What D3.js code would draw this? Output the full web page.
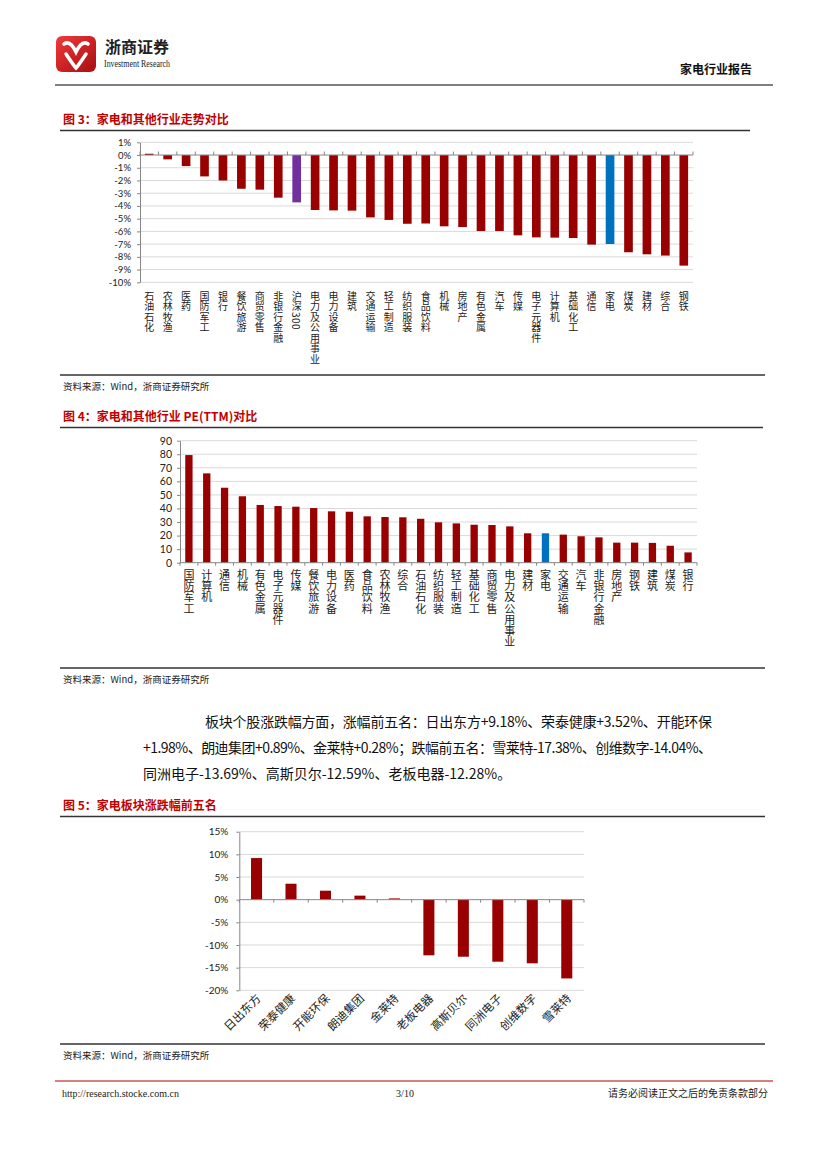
<!DOCTYPE html>
<html>
<head>
<meta charset="utf-8">
<script src="https://cdn.jsdelivr.net/npm/d3@7"></script>
<style>
  body { margin: 0; background: #fff; }
  svg { display: block; }
  text { font-family: "Noto Sans CJK SC", sans-serif; }
</style>
</head>
<body>
<svg id="page" width="827" height="1169"></svg>
<script>
// 图3 家电和其他行业走势对比 (%)
var trendNames = ["石油石化", "农林牧渔", "医药", "国防军工", "银行", "餐饮旅游", "商贸零售", "非银行金融",
  "沪深300", "电力及公用事业", "电力设备", "建筑", "交通运输", "轻工制造", "纺织服装", "食品饮料",
  "机械", "房地产", "有色金属", "汽车", "传媒", "电子元器件", "计算机", "基础化工", "通信", "家电",
  "煤炭", "建材", "综合", "钢铁"];
var trendValues = [0.1, -0.34, -0.87, -1.68, -2.0, -2.65, -2.72, -3.35, -3.72, -4.32, -4.35, -4.37,
  -4.9, -5.1, -5.4, -5.38, -5.6, -5.66, -5.97, -5.97, -6.31, -6.47, -6.49, -6.52, -7.04, -6.99,
  -7.64, -7.8, -7.9, -8.69];
var trendTicks = [1, 0, -1, -2, -3, -4, -5, -6, -7, -8, -9, -10];

// 图4 家电和其他行业 PE(TTM)对比
var peNames = ["国防军工", "计算机", "通信", "机械", "有色金属", "电子元器件", "传媒", "餐饮旅游",
  "电力设备", "医药", "食品饮料", "农林牧渔", "综合", "石油石化", "纺织服装", "轻工制造", "基础化工",
  "商贸零售", "电力及公用事业", "建材", "家电", "交通运输", "汽车", "非银行金融", "房地产", "钢铁",
  "建筑", "煤炭", "银行"];
var peValues = [79.4, 65.9, 55.3, 49.0, 42.6, 41.8, 41.3, 40.3, 37.9, 37.6, 34.2, 33.7, 33.5, 32.4,
  29.8, 29.0, 28.0, 27.8, 26.8, 21.7, 21.7, 20.7, 19.5, 18.7, 14.8, 14.8, 14.6, 12.5, 7.6];
var peTicks = [0, 10, 20, 30, 40, 50, 60, 70, 80, 90];

// 图5 家电板块涨跌幅前五名 (%)
var stockNames = ["日出东方", "荣泰健康", "开能环保", "朗迪集团", "金莱特", "老板电器", "高斯贝尔",
  "同洲电子", "创维数字", "雪莱特"];
var stockValues = [9.18, 3.52, 1.98, 0.89, 0.28, -12.28, -12.59, -13.69, -14.04, -17.38];
var stockTicks = [15, 10, 5, 0, -5, -10, -15, -20];

var paraLines = [
  "板块个股涨跌幅方面，涨幅前五名：日出东方+9.18%、荣泰健康+3.52%、开能环保",
  "+1.98%、朗迪集团+0.89%、金莱特+0.28%；跌幅前五名：雪莱特-17.38%、创维数字-14.04%、",
  "同洲电子-13.69%、高斯贝尔-12.59%、老板电器-12.28%。"
];

var RED = "#990000", PURPLE = "#7030a0", BLUE = "#0070c0";
function barColor(name) {
  if (name == "沪深300") return PURPLE;
  if (name == "家电") return BLUE;
  return RED;
}

var svg = d3.select("#page");

// ---------- header ----------
var grad = svg.append("defs").append("linearGradient").attr("id", "logoGrad")
  .attr("x1", 0).attr("y1", 0).attr("x2", 1).attr("y2", 1);
grad.append("stop").attr("offset", "0%").attr("stop-color", "#f03a3a");
grad.append("stop").attr("offset", "100%").attr("stop-color", "#a80e12");
var logo = svg.append("g");
logo.append("rect").attr("x", 56).attr("y", 36).attr("width", 40).attr("height", 36)
  .attr("rx", 6).attr("fill", "url(#logoGrad)");
logo.append("path")
  .attr("d", "M64,44 C70,40 74,48 76,52 C78,48 82,40 88,44 M66,54 C70,60 74,66 76,68 C78,66 82,60 86,54")
  .attr("fill", "none").attr("stroke", "#fff").attr("stroke-width", 3.5).attr("stroke-linecap", "round");
svg.append("text").attr("x", 105).attr("y", 53).attr("font-size", 16).attr("font-weight", "bold")
  .attr("fill", "#222").text("浙商证券");
svg.append("text").attr("x", 104).attr("y", 67).attr("font-size", 10)
  .style("font-family", "'Liberation Serif', serif").attr("textLength", 66).attr("lengthAdjust", "spacingAndGlyphs")
  .attr("fill", "#222").text("Investment Research");
svg.append("text").attr("x", 752).attr("y", 74).attr("font-size", 12).attr("font-weight", "bold")
  .attr("text-anchor", "end").attr("fill", "#111").text("家电行业报告");
svg.append("line").attr("x1", 55).attr("x2", 773).attr("y1", 85).attr("y2", 85)
  .attr("stroke", "#555").attr("stroke-width", 1.5);

// titles, rules and sources
function title(y, txt, lineEnd) {
  svg.append("text").attr("x", 63).attr("y", y).attr("font-size", 12).attr("font-weight", "bold")
    .attr("fill", "#c00000").text(txt);
  svg.append("line").attr("x1", 60).attr("x2", lineEnd).attr("y1", y + 6.5).attr("y2", y + 6.5)
    .attr("stroke", "#333").attr("stroke-width", 1.5);
}
function source(lineY) {
  svg.append("line").attr("x1", 60).attr("x2", 765).attr("y1", lineY).attr("y2", lineY)
    .attr("stroke", "#333").attr("stroke-width", 1.5);
  svg.append("text").attr("x", 63).attr("y", lineY + 15).attr("font-size", 9.5).attr("fill", "#222")
    .text("资料来源：Wind，浙商证券研究所");
}

// generic column chart
function columnChart(cfg) {
  var n = cfg.names.length;
  var x = d3.scaleBand().domain(cfg.names).range([cfg.left, cfg.right])
    .paddingInner(cfg.pad).paddingOuter(cfg.pad / 2);
  var y = d3.scaleLinear().domain(cfg.domain).range([cfg.bottom, cfg.top]);
  var g = svg.append("g");

  // gridlines
  g.selectAll(".grid").data(cfg.ticks.filter(d => d != 0)).enter().append("line")
    .attr("x1", cfg.left).attr("x2", cfg.right)
    .attr("y1", d => y(d)).attr("y2", d => y(d))
    .attr("stroke", "#d9d9d9").attr("stroke-width", 1);

  // bars
  g.selectAll(".bar").data(cfg.names).enter().append("rect")
    .attr("x", d => x(d))
    .attr("width", x.bandwidth())
    .attr("y", (d, i) => y(Math.max(0, cfg.values[i])))
    .attr("height", (d, i) => Math.abs(y(cfg.values[i]) - y(0)))
    .attr("fill", d => barColor(d));

  // y axis
  var ax = g.append("g").attr("transform", "translate(" + cfg.left + ",0)")
    .call(d3.axisLeft(y).tickValues(cfg.ticks).tickSize(3).tickSizeOuter(0)
      .tickPadding(cfg.tickPad).tickFormat(cfg.fmt));
  ax.select(".domain").attr("stroke", "#868686");
  ax.selectAll(".tick line").attr("stroke", "#868686");
  ax.selectAll(".tick text").attr("font-size", cfg.tickFont).attr("fill", "#222")
    .style("font-family", "Lato, 'Liberation Sans', sans-serif");

  // category axis at zero
  var y0 = y(0);
  g.append("line").attr("x1", cfg.left).attr("x2", cfg.right).attr("y1", y0).attr("y2", y0)
    .attr("stroke", "#868686").attr("stroke-width", 1);
  g.selectAll(".ctick").data(d3.range(n + 1)).enter().append("line")
    .attr("x1", i => cfg.left + i * x.step()).attr("x2", i => cfg.left + i * x.step())
    .attr("y1", y0).attr("y2", y0 + cfg.catTick)
    .attr("stroke", "#868686");
  return {x: x, y: y, g: g};
}

// ---------- 图3 ----------
title(124, "图 3：家电和其他行业走势对比", 750);
var c1 = columnChart({
  names: trendNames, values: trendValues, ticks: trendTicks,
  left: 140, right: 693, top: 142.3, bottom: 282.3, domain: [-10, 1],
  pad: 0.53, tickPad: 6, tickFont: 9.5, catTick: -3.5, fmt: d => d + "%"
});
c1.g.selectAll(".lbl").data(trendNames).enter().append("text")
  .attr("x", d => c1.x(d) + c1.x.bandwidth() / 2).attr("y", 291)
  .style("writing-mode", "vertical-rl").style("letter-spacing", "0.5px")
  .attr("font-size", 10).attr("fill", "#222").text(d => d);
source(375);

// ---------- 图4 ----------
title(421, "图 4：家电和其他行业 PE(TTM)对比", 763);
var c2 = columnChart({
  names: peNames, values: peValues, ticks: peTicks,
  left: 180, right: 697, top: 440.7, bottom: 562.7, domain: [0, 90],
  pad: 0.59, tickPad: 5, tickFont: 10.5, catTick: 3, fmt: d => d
});
c2.g.selectAll(".lbl").data(peNames).enter().append("text")
  .attr("x", d => c2.x(d) + c2.x.bandwidth() / 2).attr("y", 569)
  .style("writing-mode", "vertical-rl").style("letter-spacing", "0.3px")
  .attr("font-size", 11).attr("fill", "#222").text(d => d);
source(668);

// ---------- paragraph ----------
var para = svg.append("g").style("font-family", "'Liberation Serif', 'Noto Sans CJK SC', serif")
  .attr("font-size", 14).attr("fill", "#111");
para.append("text").attr("x", 205).attr("y", 727).attr("textLength", 507)
  .attr("lengthAdjust", "spacing").text(paraLines[0]);
para.append("text").attr("x", 143).attr("y", 753).attr("textLength", 569)
  .attr("lengthAdjust", "spacing").text(paraLines[1]);
para.append("text").attr("x", 143).attr("y", 779).text(paraLines[2]);

// ---------- 图5 ----------
title(810, "图 5：家电板块涨跌幅前五名", 765);
var c3 = columnChart({
  names: stockNames, values: stockValues, ticks: stockTicks,
  left: 239.3, right: 584, top: 831.7, bottom: 990.3, domain: [-20, 15],
  pad: 0.68, tickPad: 8, tickFont: 10, catTick: 3, fmt: d => d + "%"
});
c3.g.selectAll(".lbl").data(stockNames).enter().append("text")
  .attr("transform", d => "translate(" + (c3.x(d) + c3.x.bandwidth() / 2 + 5) + ",999) rotate(-45)")
  .attr("text-anchor", "end").attr("font-size", 11.5).attr("fill", "#222").text(d => d);
source(1044);

// ---------- footer ----------
svg.append("line").attr("x1", 55).attr("x2", 773).attr("y1", 1081).attr("y2", 1081)
  .attr("stroke", "#b00000").attr("stroke-width", 1);
var foot = svg.append("g").attr("font-size", 10).attr("fill", "#222");
foot.append("text").attr("x", 62).attr("y", 1097).style("font-family", "'Liberation Serif', serif")
  .text("http://research.stocke.com.cn");
foot.append("text").attr("x", 405).attr("y", 1097).attr("text-anchor", "middle")
  .style("font-family", "'Liberation Serif', serif").text("3/10");
foot.append("text").attr("x", 768).attr("y", 1097).attr("text-anchor", "end")
  .text("请务必阅读正文之后的免责条款部分");
</script>
</body>
</html>
